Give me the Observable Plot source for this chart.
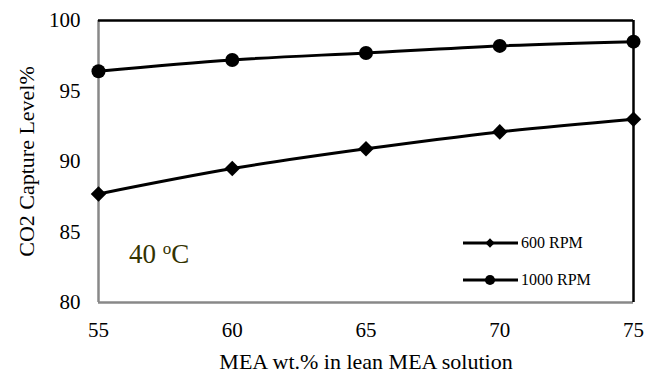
<!DOCTYPE html>
<html>
<head>
<meta charset="utf-8">
<script src="https://cdn.jsdelivr.net/npm/d3@7"></script>
<script src="https://cdn.jsdelivr.net/npm/@observablehq/plot@0.6"></script>
<style>
  html, body { margin: 0; padding: 0; background: #fff; }
  #chart { position: relative; width: 650px; height: 372px; }
</style>
</head>
<body>
<div id="chart"></div>
<script>
// MEA concentration in the lean solution (wt.%)
const meaWt = [55, 60, 65, 70, 75];
// CO2 capture level (%) at 40 °C for two stirrer speeds
const rpm600 = [87.7, 89.5, 90.9, 92.1, 93.0];
const rpm1000 = [96.4, 97.2, 97.7, 98.2, 98.5];
const seriesNames = ["600 RPM", "1000 RPM"];
const xTicks = [55, 60, 65, 70, 75];
const yTicks = [80, 85, 90, 95, 100];
const xDomain = [55, 75];
const yDomain = [80, 100];

const serif = "'Liberation Serif', 'Times New Roman', serif";

const rows = [
  ...meaWt.map((x, i) => ({x, y: rpm600[i], s: seriesNames[0]})),
  ...meaWt.map((x, i) => ({x, y: rpm1000[i], s: seriesNames[1]}))
];
const symbolOf = {"600 RPM": "diamond2", "1000 RPM": "circle"};

const plot = Plot.plot({
  width: 650,
  height: 372,
  marginLeft: 98,
  marginRight: 17,
  marginTop: 20,
  marginBottom: 70,
  style: {fontFamily: serif, fontSize: "21px", color: "#000", background: "#fff"},
  x: {domain: xDomain, ticks: xTicks, tickSize: 0, tickPadding: 20, label: "MEA wt.% in lean MEA solution", labelAnchor: "center", labelOffset: 66, labelArrow: "none"},
  y: {domain: yDomain, ticks: yTicks, tickSize: 0, tickPadding: 18, label: "CO2 Capture Level%", labelAnchor: "center", labelOffset: 80, labelArrow: "none"},
  marks: [
    // plot-area border: grey left/bottom, black top/right
    Plot.ruleX([xDomain[0]], {stroke: "#888", strokeWidth: 2.5}),
    Plot.ruleY([yDomain[0]], {stroke: "#888", strokeWidth: 2.5}),
    Plot.ruleY([yDomain[1]], {stroke: "#000", strokeWidth: 2.5}),
    Plot.ruleX([xDomain[1]], {stroke: "#000", strokeWidth: 2.5}),
    Plot.line(rows, {x: "x", y: "y", z: "s", stroke: "#000", strokeWidth: 3, curve: "catmull-rom"}),
    Plot.dot(rows, {x: "x", y: "y", symbol: d => symbolOf[d.s], r: 7, fill: "#000", stroke: "none"})
  ]
});
document.getElementById("chart").appendChild(plot);

const svg = d3.select(plot);
// axis titles are a touch larger than the tick labels
svg.selectAll('g[aria-label="x-axis label"] text, g[aria-label="y-axis label"] text').attr("font-size", 22);

// legend inside the plot area
const legend = svg.append("g")
  .attr("font-family", serif).attr("font-size", 16).attr("text-anchor", "start");
seriesNames.forEach((name, i) => {
  const y = 243 + i * 37;
  legend.append("line").attr("x1", 463).attr("x2", 518).attr("y1", y).attr("y2", y)
    .attr("stroke", "#000").attr("stroke-width", 3);
  const sym = name === "600 RPM" ? d3.symbolDiamond2 : d3.symbolCircle;
  const size = name === "600 RPM" ? 55 : 80;
  legend.append("path").attr("d", d3.symbol(sym, size)()).attr("transform", `translate(490,${y})`).attr("fill", "#000");
  legend.append("text").attr("x", 521).attr("y", y + 5).attr("fill", "#000").text(name);
});

// temperature note
const note = svg.append("text")
  .attr("x", 129).attr("y", 263).attr("text-anchor", "start")
  .attr("font-family", serif)
  .attr("font-size", 27).attr("fill", "#333300");
note.append("tspan").text("40 ");
note.append("tspan").attr("font-size", 17).attr("dy", -9).text("o");
note.append("tspan").attr("dy", 9).text("C");
</script>
</body>
</html>
